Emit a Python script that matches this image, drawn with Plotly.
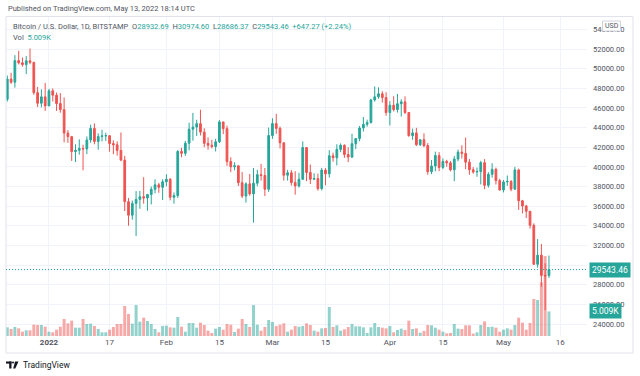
import plotly.graph_objects as go
import pandas as pd

# ---------------- data ----------------
dates = pd.date_range("2021-12-21", "2022-05-13", freq="D")

opens = [
    46880, 48940, 48620, 50820, 50600, 50420, 50800, 50640, 47560, 46480, 47130,
    46210, 47740, 47300, 46450, 45830, 43440, 43080, 41560, 41690, 41870, 41830,
    42740, 43920, 42590, 43090, 43150, 43180, 42370, 42250, 41680, 40690, 36460,
    35080, 36280, 36690, 36960, 36830, 37180, 37720, 38170, 37920,
    38480, 38740, 36900, 37080, 41570, 41380, 42410, 43840, 44050, 44400, 43540,
    42400, 42200, 42070, 42550, 44580, 43890, 40540, 40010, 40110, 38390, 37030,
    38270, 37250, 38340, 39210, 39120, 37720,
    43190, 44410, 43920, 42450, 39150, 39400, 38410, 38060, 38740, 41970, 39430,
    38740, 38810, 37790, 39670, 39290, 41130, 40930, 41780, 42200, 41260, 41000,
    42360, 42890, 43960, 44330, 44510, 46820, 47130, 47440, 47060,
    45530, 46280, 45830, 46430, 46620, 45540, 43180, 43460, 42260, 42760, 42170,
    39510, 40090, 41150, 39940, 40560, 40410, 39700, 40800, 41500, 41370, 40480,
    39710, 39480, 39520, 40430, 38120, 39240, 39750, 38600,
    37650, 38470, 38520, 37730, 39690, 36550, 36020, 35480, 34050, 30080, 31010,
    28950, 28932.69,
]
highs = [
    49300, 49580, 51380, 51810, 51150, 51280, 52050, 50700, 48140, 47890, 48550,
    47940, 47990, 47570, 47510, 47070, 43750, 43150, 42300, 42800, 42250, 43100,
    44300, 44430, 43420, 43780, 43470, 43190, 42700, 42590, 43500, 41120, 36830,
    36570, 37530, 37550, 38950, 37250, 38000, 38730, 38370, 38740,
    39250, 38860, 37390, 41720, 41940, 42650, 44500, 45500, 44800, 45820, 43940,
    43000, 42760, 42860, 44770, 44580, 44200, 40980, 40470, 40140, 39470, 38420,
    39280, 39880, 39700, 40310, 39880, 44000,
    44950, 45400, 44100, 42500, 39700, 39670, 39560, 39400, 42590, 42010, 40240,
    39350, 39300, 39900, 39870, 41700, 41450, 42300, 42390, 42290, 42000, 43370,
    42900, 44170, 45080, 44800, 46930, 48190, 48100, 47700, 47600,
    46700, 47200, 47430, 46890, 47180, 45540, 43900, 43970, 42800, 43420, 42420,
    40700, 41550, 41500, 40870, 40720, 40600, 41100, 41760, 42200, 42980, 40800,
    39980, 39930, 40620, 40790, 39460, 40370, 39920, 38790,
    38660, 39120, 38650, 40000, 39830, 36640, 36130, 35500, 34250, 32650, 32150,
    30180, 30974.60,
]
lows = [
    46650, 48450, 48070, 50430, 50200, 49450, 50460, 47330, 46100, 46060, 45690,
    46210, 46660, 45700, 45520, 42500, 42440, 40610, 40500, 41240, 39650, 41300,
    42450, 42300, 41750, 42600, 42640, 41550, 41290, 41150, 40580, 35500, 34010,
    34620, 32950, 35730, 36250, 35530, 36170, 37300, 37360, 36630,
    38020, 36590, 36250, 36840, 40980, 41120, 41680, 42670, 43150, 43200, 42000,
    41750, 41880, 41570, 42430, 43330, 40100, 39460, 39650, 38050, 36820, 36360,
    37060, 34320, 38030, 38600, 37030, 37450,
    42850, 43360, 41880, 38600, 38600, 38100, 37170, 37890, 38670, 38550, 38250,
    38680, 37580, 37600, 38120, 38910, 40530, 40150, 41500, 40920, 40480, 40900,
    41810, 42610, 43600, 44090, 44420, 46650, 46940, 46560, 45200,
    44220, 45640, 45530, 45120, 45370, 43070, 42750, 42120, 42130, 42000, 39200,
    39260, 39550, 39560, 39770, 40020, 39540, 38540, 40570, 40850, 39770, 39200,
    39300, 38990, 38210, 37730, 37890, 38900, 38200, 37580,
    37400, 38070, 37520, 37680, 35620, 35260, 34800, 33720, 30020, 29740, 27800,
    25420, 28686.37,
]
closes = [
    48940, 48620, 50820, 50600, 50420, 50800, 50640, 47560, 46480, 47130, 46210,
    47740, 47300, 46450, 45830, 43440, 43080, 41560, 41690, 41870, 41830, 42740,
    43920, 42590, 43090, 43150, 43180, 42370, 42250, 41680, 40690, 36460, 35080,
    36280, 36690, 36960, 36830, 37180, 37720, 38170, 37920, 38480,
    38740, 36900, 37080, 41570, 41380, 42410, 43840, 44050, 44400, 43540, 42400,
    42200, 42070, 42550, 44580, 43890, 40540, 40010, 40110, 38390, 37030, 38270,
    37250, 38340, 39210, 39120, 37720, 43190,
    44410, 43920, 42450, 39150, 39400, 38410, 38060, 38740, 41970, 39430, 38740,
    38810, 37790, 39670, 39290, 41130, 40930, 41780, 42200, 41260, 41000, 42360,
    42890, 43960, 44330, 44510, 46820, 47130, 47440, 47060, 45530,
    46280, 45830, 46430, 46620, 45540, 43180, 43460, 42260, 42760, 42170, 39510,
    40090, 41150, 39940, 40560, 40410, 39700, 40800, 41500, 41370, 40480, 39710,
    39480, 39520, 40430, 38120, 39240, 39750, 38600, 37650,
    38470, 38520, 37730, 39690, 36550, 36020, 35480, 34050, 30080, 31010, 28950,
    28896.19, 29543.46,
]
volumes = [
    1770, 1430, 1840, 1560, 880, 1160, 1160, 2310, 2240, 2240, 1900,
    880, 750, 1290, 1900, 3470, 2580, 3130, 1700, 1700, 3470, 2450, 2520, 2040,
    1430, 750, 750, 1290, 1840, 2450, 2450, 6120, 4490, 2520, 6320, 2920, 3740,
    3060, 2450, 1430, 750, 2040,
    2110, 1770, 1700, 3880, 1900, 880, 2650, 2650, 1700, 2720, 2240, 1090, 610,
    1500, 1840, 1290, 2450, 2310, 820, 1500, 3470, 2450, 1840, 6320, 2310, 1090,
    1840, 3260,
    2860, 2040, 2310, 2580, 880, 1290, 2040, 1900, 2040, 2580, 2240, 1090, 880,
    1560, 1630, 5920, 1840, 2180, 1090, 1360, 1840, 2450, 1970, 1970, 1770, 610,
    1770, 2650, 1840, 1700, 1560,
    2040, 750, 1220, 1500, 1220, 3130, 1430, 1560, 680, 1020, 2240, 2180, 1700,
    1290, 880, 540, 610, 2450, 1500, 1430, 2180, 2180, 480, 750, 2240, 2990,
    1840, 1900, 1700, 880,
    1290, 1560, 1290, 2240, 3740, 2720, 1290, 2650, 7550, 7340, 10950, 16320, 5009,
]

price_ticks = list(range(24000, 54001, 2000))
time_ticks = ["2022-01-01", "2022-01-17", "2022-02-01", "2022-02-15", "2022-03-01",
              "2022-03-15", "2022-04-01", "2022-04-15", "2022-05-01", "2022-05-16"]
time_labels = ["<b>2022</b>", "17", "Feb", "15", "Mar", "15", "Apr", "15", "May", "16"]

last_price = closes[-1]
prev_close = closes[-2]
last_volume = volumes[-1]

# ---------------- styling ----------------
UP = "#26a69a"
DOWN = "#ef5350"
UP_VOL = "rgba(38,166,154,0.5)"
DOWN_VOL = "rgba(239,83,80,0.5)"
GRID = "#f0f3fa"
FONT = "Roboto"
TXT = "#131722"
LBL = "#50535e"

W, H = 640, 376
L, R, T, B = 6, 587, 17, 336  # plot area in pixels


def px(x):
    return (x - L) / (R - L)


def py(y):
    return (B - y) / (B - T)


vol_colors = [UP_VOL if c >= o else DOWN_VOL for o, c in zip(opens, closes)]

fig = go.Figure()
fig.add_trace(go.Bar(
    x=dates, y=volumes, marker_color=vol_colors, marker_line_width=0,
    width=0.78 * 86400000, yaxis="y", showlegend=False, hoverinfo="skip",
))
fig.add_trace(go.Candlestick(
    x=dates, open=opens, high=highs, low=lows, close=closes, yaxis="y2",
    increasing=dict(line=dict(color=UP, width=1), fillcolor=UP),
    decreasing=dict(line=dict(color=DOWN, width=1), fillcolor=DOWN),
    whiskerwidth=0, showlegend=False,
))

fig.update_layout(
    width=W, height=H,
    margin=dict(l=L, r=W - R, t=T, b=H - B, pad=0),
    paper_bgcolor="white", plot_bgcolor="white",
    font=dict(family=FONT, size=8, color=TXT),
    boxgap=0.35,
    showlegend=False,
    xaxis=dict(
        type="date", range=["2021-12-20 15:45", "2022-05-23 01:00"],
        tickvals=time_ticks, ticktext=time_labels,
        showgrid=True, gridcolor=GRID, gridwidth=1,
        showline=False, zeroline=False, ticks="",
        tickfont=dict(size=8, color=LBL),
        rangeslider=dict(visible=False), fixedrange=True,
    ),
    yaxis=dict(
        range=[0, 65100], visible=False, showgrid=False, zeroline=False,
    ),
    yaxis2=dict(
        overlaying="y", side="right", range=[22778, 55262],
        tickvals=price_ticks, tickformat=".2f",
        showgrid=True, gridcolor=GRID, gridwidth=1,
        zeroline=False, showline=False, ticks="",
        ticklabelstandoff=5,
        tickfont=dict(size=7.5, color=LBL),
    ),
)

shapes = []
# outer frame
shapes.append(dict(type="rect", xref="paper", yref="paper",
                   x0=px(6), x1=px(633), y0=py(16.5), y1=py(353),
                   line=dict(color="#e0e3eb", width=1), fillcolor="rgba(0,0,0,0)", layer="above"))
# last price dotted line
shapes.append(dict(type="line", xref="paper", yref="y2", x0=0, x1=1,
                   y0=last_price, y1=last_price,
                   line=dict(color=UP, width=1, dash="1px,2px")))
# TradingView logo
shapes.append(dict(type="rect", xref="paper", yref="paper",
                   x0=px(6), x1=px(11.5), y0=py(361.5), y1=py(363.6),
                   line=dict(width=0), fillcolor=TXT))
shapes.append(dict(type="rect", xref="paper", yref="paper",
                   x0=px(9.2), x1=px(11.5), y0=py(361.5), y1=py(368.5),
                   line=dict(width=0), fillcolor=TXT))
shapes.append(dict(type="circle", xref="paper", yref="paper",
                   x0=px(12), x1=px(14), y0=py(361.5), y1=py(363.5),
                   line=dict(width=0), fillcolor=TXT))
x_a, x_b, x_c, y_t, y_b = px(15), px(18.5), px(15.3), py(361.5), py(368.5)
shapes.append(dict(type="path", xref="paper", yref="paper",
                   path=f"M {x_a} {y_t} L {x_b} {y_t} L {x_c} {y_b} L {px(13.2)} {y_b} Z",
                   line=dict(width=0), fillcolor=TXT))
# USD box
shapes.append(dict(type="rect", xref="paper", yref="paper",
                   x0=px(602.5), x1=px(620.5), y0=py(21), y1=py(31),
                   line=dict(color="#d1d4dc", width=1), fillcolor="white", layer="above"))
fig.update_layout(shapes=shapes)

NB = "\u00a0"
teal = lambda s: f"<span style='color:{UP}'>{s}</span>"
change = last_price - prev_close
legend_line = (
    "Bitcoin / U.S. Dollar, 1D, BITSTAMP" + NB * 2
    + "O" + teal(f"{opens[-1]:.2f}") + NB * 2
    + "H" + teal(f"{highs[-1]:.2f}") + NB * 2
    + "L" + teal(f"{lows[-1]:.2f}") + NB * 2
    + "C" + teal(f"{closes[-1]:.2f}") + NB * 2
    + teal(f"+{change:.2f} (+{change / prev_close * 100:.2f}%)")
)

annotations = [
    dict(text="Published on TradingView.com, May 13, 2022 18:14 UTC",
         xref="paper", yref="paper", x=px(6), y=py(8.5), xanchor="left", yanchor="middle",
         showarrow=False, font=dict(size=7.5, color=LBL)),
    dict(text=legend_line, xref="paper", yref="paper", x=px(11), y=py(26),
         xanchor="left", yanchor="middle", showarrow=False,
         font=dict(size=7.5, color=LBL)),
    dict(text="Vol" + NB * 2 + teal(f"{last_volume / 1000:.3f}K"), xref="paper", yref="paper",
         x=px(11), y=py(37.5), xanchor="left", yanchor="middle", showarrow=False,
         font=dict(size=7.5, color=LBL)),
    dict(text="USD", xref="paper", yref="paper", x=px(611.5), y=py(26),
         xanchor="center", yanchor="middle", showarrow=False,
         font=dict(size=7, color=LBL)),
    dict(text=f"{last_price:.2f}", xref="paper", yref="y2", x=1, y=last_price,
         xanchor="left", yanchor="middle", xshift=2, showarrow=False,
         bgcolor=UP, borderpad=2, font=dict(size=8.5, color="white")),
    dict(text=f"{last_volume / 1000:.3f}K", xref="paper", yref="y", x=1, y=last_volume,
         xanchor="left", yanchor="middle", xshift=2, showarrow=False,
         bgcolor=UP, borderpad=2, font=dict(size=8.5, color="white")),
    dict(text="TradingView", xref="paper", yref="paper", x=px(20.5), y=py(365),
         xanchor="left", yanchor="middle", showarrow=False,
         font=dict(size=8.5, color=TXT)),
]
fig.update_layout(annotations=annotations)

fig.write_html(
    "out.html",
    config={"displayModeBar": False},
    post_script="document.body.style.margin='0';document.body.style.overflow='hidden';",
)
